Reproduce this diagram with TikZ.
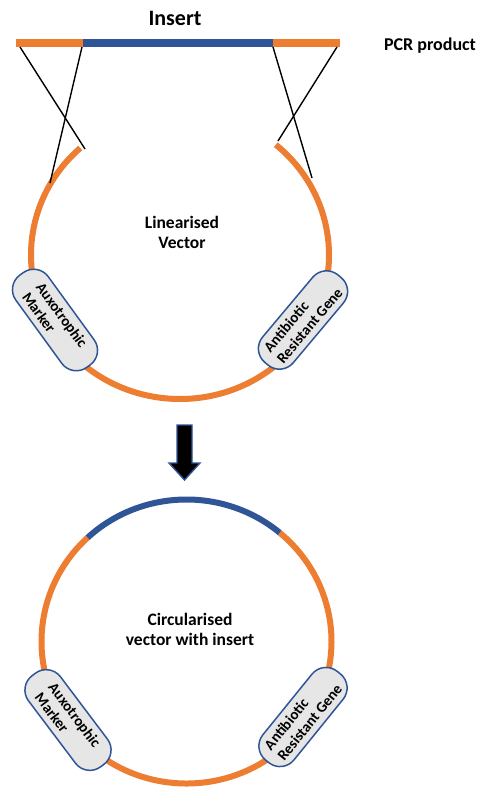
\documentclass[tikz,border=0pt]{standalone}
\usepackage{fontspec}
\setmainfont{Carlito}
\definecolor{vecorange}{HTML}{ED7D31}
\definecolor{insblue}{HTML}{2F5597}
\definecolor{boxgray}{HTML}{E7E6E6}
\tikzset{
  vecdna/.style={line width=6pt, draw=vecorange},
  insdna/.style={line width=6pt, draw=insblue},
  bardna/.style={line width=7.5pt},
  primer/.style={line width=1.4pt, draw=black},
  genebox/.style={draw=insblue, line width=1.5pt, fill=boxgray, rounded corners=18pt,
    minimum width=114pt, minimum height=40pt, inner sep=0pt, align=left,
    font=\fontsize{15}{17}\selectfont\bfseries},
  capt/.style={font=\fontsize{17.5}{20}\selectfont\bfseries, align=center, inner sep=0pt}
}
\begin{document}
\begin{tikzpicture}[x=1pt,y=1pt]
  \useasboundingbox[fill=white] (0,0) rectangle (478,-787);

  % PCR product: homology arms flanking the insert
  \coordinate (b0) at (16,-43);
  \coordinate (b1) at (83,-43);
  \coordinate (b2) at (273,-43);
  \coordinate (b3) at (340,-43);
  \draw[bardna, vecorange] (b0) -- (b1);
  \draw[bardna, insblue] (b1) -- (b2);
  \draw[bardna, vecorange] (b2) -- (b3);
  \node[capt, font=\fontsize{22}{24}\selectfont\bfseries, anchor=base] (ins) at (175,-25) {Insert};
  \node[capt, font=\fontsize{18}{20}\selectfont\bfseries, anchor=base] (pcr) at (430,-50) {PCR product};

  % linearised vector
  \coordinate (c1) at (180,-255);
  \draw[vecdna] (c1) ++(132:149 and 144) arc[start angle=132, end angle=410, x radius=149, y radius=144];
  \node[capt] (lin) at (182,-232) {Linearised\\Vector};

  % crossover lines between the arms and the vector ends
  \coordinate (p1) at (20,-47);
  \coordinate (p2) at (82,-47);
  \coordinate (p3) at (273,-47);
  \coordinate (p4) at (337,-47);
  \coordinate (e1) at (85,-149);
  \coordinate (e2) at (50,-183);
  \coordinate (e3) at (278,-141);
  \coordinate (e4) at (312,-178);
  \draw[primer] (p1) -- (e1);
  \draw[primer] (p2) -- (e2);
  \draw[primer] (p3) -- (e4);
  \draw[primer] (p4) -- (e3);

  \node[genebox, rotate=-54] (aux1) at (55,-320) {Auxotrophic\\Marker};
  \node[genebox, rotate=50] (ant1) at (303,-320) {Antibiotic\\Resistant Gene};

  % block arrow
  \filldraw[fill=black, draw=insblue, line width=1.4pt, line join=miter]
    (177,-425) -- (192,-425) -- (192,-463) -- (200,-463) -- (184.5,-480)
    -- (169,-463) -- (177,-463) -- cycle;

  % circularised vector
  \coordinate (c2) at (186.5,-641.5);
  \draw[vecdna] (c2) ++(133:145 and 142) arc[start angle=133, end angle=410, x radius=145, y radius=142];
  \draw[insdna] (c2) ++(50:145 and 142) arc[start angle=50, end angle=133, x radius=145, y radius=142];
  \node[capt] (circ) at (190,-629) {Circularised\\vector with insert};

  \node[genebox, rotate=-53] (aux2) at (68,-720) {Auxotrophic\\Marker};
  \node[genebox, rotate=51] (ant2) at (303,-717) {Antibiotic\\Resistant Gene};
\end{tikzpicture}
\end{document}
